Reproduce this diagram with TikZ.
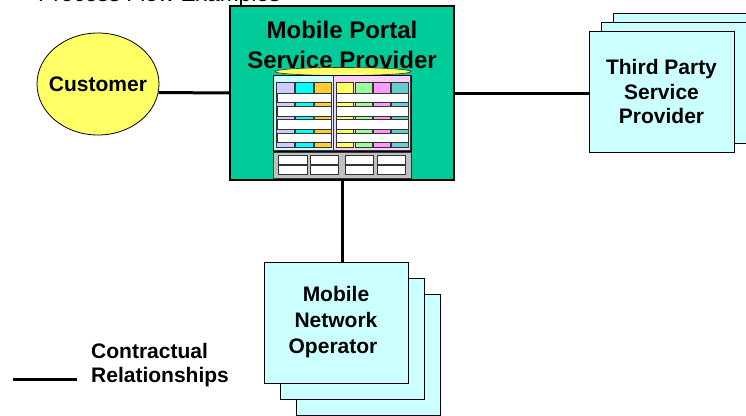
\documentclass[tikz,border=0pt]{standalone}
\usepackage{fontspec}
\setmainfont{Liberation Sans}
\usetikzlibrary{shapes.geometric}

\definecolor{portalgreen}{HTML}{00CC99}
\definecolor{custyellow}{HTML}{FFFF66}
\definecolor{partycyan}{HTML}{CCFFFF}
\definecolor{dbpink}{HTML}{FFCCFF}
\definecolor{dbgray}{HTML}{C0C0C0}
\definecolor{dbline}{HTML}{333333}
\definecolor{colA}{HTML}{CCCCFF}
\definecolor{colB}{HTML}{00FFFF}
\definecolor{colC}{HTML}{FFCC33}
\definecolor{colD}{HTML}{FFFF66}
\definecolor{colE}{HTML}{99FF99}
\definecolor{colF}{HTML}{FF99FF}
\definecolor{colG}{HTML}{66CCCC}

\tikzset{
  rel/.style={line width=3pt},
  lbl/.style={font=\fontsize{21}{24.5}\selectfont\bfseries, align=center},
  partybox/.style={draw=black, line width=0.9pt, fill=partycyan,
    minimum width=145pt, minimum height=121pt, inner sep=0pt},
  dbcell/.style={draw=dbline, line width=0.7pt},
  dbbar/.style={draw=dbline, line width=0.8pt, fill=white},
}

\begin{document}
\begin{tikzpicture}[x=1pt, y=-1pt]
\useasboundingbox (0,0) rectangle (746,415);

% section heading, mostly above the page edge
\node[anchor=base west, inner sep=0pt, font=\fontsize{22.7}{26}\selectfont]
  (heading) at (38,1.5) {Process Flow Examples};

% customer (the text box is kept narrow so the ellipse keeps its size)
\node[ellipse, draw=black, line width=0.8pt, fill=custyellow,
  minimum width=122pt, minimum height=102pt, inner sep=0pt, lbl]
  (cust) at (98,84) {\makebox[0pt]{Customer}};

% mobile portal service provider
\node[draw=black, line width=1.8pt, fill=portalgreen,
  minimum width=224pt, minimum height=174pt, inner sep=0pt]
  (main) at (342,93) {};
\node[font=\fontsize{24}{30}\selectfont\bfseries, align=center, inner sep=0pt]
  (title) at (342,45) {Mobile Portal\\Service Provider};

% database top
\draw[fill=custyellow, draw=dbline, line width=0.6pt] (343,71.5) ellipse [x radius=68, y radius=4];
% database panel
\draw[fill=dbline] (273,75) rectangle (411,151);
\fill[partycyan] (274,76) rectangle (333,150);
\fill[dbpink] (334,76) rectangle (410,150);
\foreach \xa/\xb/\c in {276/294/colA, 295/313/colB, 314/331/colC,
                        336/353/colD, 355/372/colE, 373/390/colF, 391/408/colG}
  \draw[dbcell, fill=\c] (\xa,82) rectangle (\xb,147);
\foreach \ya in {93,106.5,119.5,133} {
  \draw[dbbar] (277,\ya) rectangle (331,\ya+9.5);
  \draw[dbbar] (336,\ya) rectangle (408,\ya+9.5);
}
% database base
\draw[fill=dbgray, draw=dbline, line width=0.8pt] (273,152) rectangle (411,178);
\foreach \xa/\xb in {278/307, 310/338, 345/373, 377/405} {
  \draw[dbbar] (\xa,155) rectangle (\xb,164);
  \draw[dbbar] (\xa,165.5) rectangle (\xb,174);
}

% third party service provider (stack)
\node[partybox] (tp3) at (685.5,73.5) {};
\node[partybox] (tp2) at (673.5,82.5) {};
\node[partybox, lbl] (tp) at (661.5,91.5) {Third Party\\Service\\Provider};

% mobile network operator (stack)
\node[partybox, minimum width=144pt] (mno3) at (368,354.5) {};
\node[partybox, minimum width=144pt] (mno2) at (352,338.5) {};
\node[partybox, minimum width=144pt, lbl, font=\fontsize{21}{26}\selectfont\bfseries]
  (mno) at (336,322.5) {Mobile\\Network\\Operator\hspace*{6pt}};

% contractual relationships
\draw[rel] (cust.-8.5) -- (main.west);
\draw[rel] (main.east) -- (main.east -| tp.west);
\draw[rel] (main.south) -- (main.south |- mno.north);

% legend
\coordinate (leg1) at (13,379);
\coordinate (leg2) at (77,379);
\draw[rel] (leg1) -- (leg2);
\node[anchor=west, inner sep=0pt, align=left, font=\fontsize{21}{24}\selectfont\bfseries]
  (legtext) at (91,365.5) {Contractual\\Relationships};
\end{tikzpicture}
\end{document}
